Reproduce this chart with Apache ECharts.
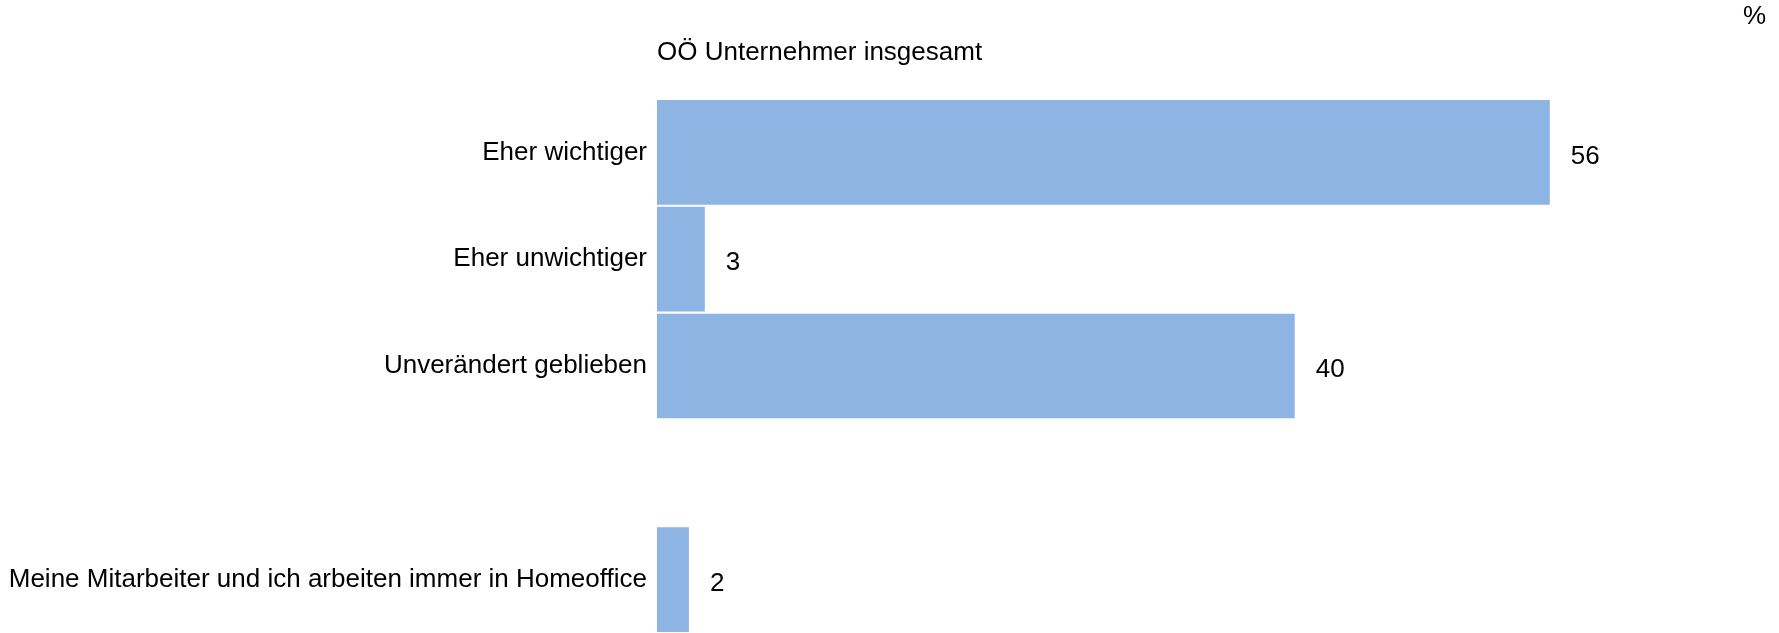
<!DOCTYPE html>
<html>
<head>
<meta charset="utf-8">
<script src="https://cdn.jsdelivr.net/npm/echarts@6/dist/echarts.min.js"></script>
<style>
  html, body { margin: 0; padding: 0; background: #ffffff; }
  #chart { width: 1779px; height: 633px; }
</style>
</head>
<body>
<div id="chart"></div>
<script>
// Answer categories (an empty slot separates the last group)
const categories = [
  'Eher wichtiger',
  'Eher unwichtiger',
  'Unverändert geblieben',
  '',
  'Meine Mitarbeiter und ich arbeiten immer in Homeoffice'
];
// Share of respondents in percent
const shares = [56, 3, 40, null, 2];

const titleText = 'OÖ Unternehmer insgesamt';
const unitText = '%';

const FONT = '"Liberation Sans", Arial, sans-serif';
const FONT_SIZE = 26;

const chart = echarts.init(document.getElementById('chart'), null, { renderer: 'canvas' });

chart.setOption({
  animation: false,
  backgroundColor: '#ffffff',
  textStyle: { fontFamily: FONT },
  title: [
    {
      text: titleText,
      left: 657,
      top: 40,
      padding: 0,
      textStyle: { fontFamily: FONT, fontSize: FONT_SIZE, fontWeight: 'normal', color: '#000000' }
    },
    {
      text: unitText,
      left: 1743,
      top: 4,
      padding: 0,
      textStyle: { fontFamily: FONT, fontSize: FONT_SIZE, fontWeight: 'normal', color: '#000000' }
    }
  ],
  grid: { left: 657, right: 6, top: 99, bottom: 0, containLabel: false },
  xAxis: {
    type: 'value',
    min: 0,
    max: 70,
    show: false
  },
  yAxis: {
    type: 'category',
    data: categories,
    inverse: true,
    axisLine: { show: false },
    axisTick: { show: false },
    splitLine: { show: false },
    axisLabel: {
      margin: 10,
      padding: [4, 0, 0, 0],
      fontFamily: FONT,
      fontSize: FONT_SIZE,
      color: '#000000'
    }
  },
  series: [
    {
      type: 'bar',
      data: shares,
      barCategoryGap: '2%',
      itemStyle: { color: '#8EB4E3' },
      label: {
        show: true,
        position: 'right',
        distance: 21,
        offset: [0, 4],
        fontFamily: FONT,
        fontSize: FONT_SIZE,
        color: '#000000'
      }
    }
  ]
});
</script>
</body>
</html>
